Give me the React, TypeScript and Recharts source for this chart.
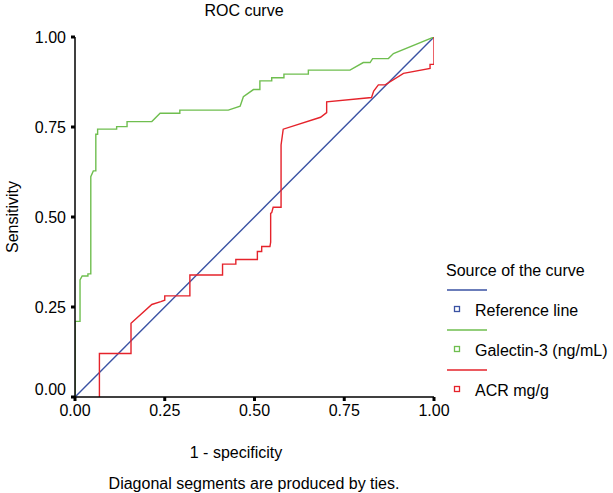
import React from "react";
import { LineChart, Line, XAxis, YAxis } from "recharts";

const FONT = "'Liberation Sans', Arial, Helvetica, sans-serif";

const xTicks = [0, 0.25, 0.5, 0.75, 1];
const yTicks = [0, 0.25, 0.5, 0.75, 1];

const seriesNames = ["Reference line", "Galectin-3 (ng/mL)", "ACR mg/g"];
const seriesColors = ["#3a52a3", "#6fbe4f", "#e5232b"];

const referenceLine = [
  { x: 0, y: 0 },
  { x: 1, y: 1 },
];

const galectin = [
  { x: 0, y: 0 }, { x: 0, y: 0.21 }, { x: 0.014, y: 0.21 }, { x: 0.014, y: 0.325 },
  { x: 0.02, y: 0.336 }, { x: 0.036, y: 0.336 }, { x: 0.036, y: 0.342 }, { x: 0.044, y: 0.342 },
  { x: 0.044, y: 0.612 }, { x: 0.051, y: 0.628 }, { x: 0.058, y: 0.628 }, { x: 0.058, y: 0.73 },
  { x: 0.063, y: 0.73 }, { x: 0.063, y: 0.744 }, { x: 0.116, y: 0.744 }, { x: 0.116, y: 0.751 },
  { x: 0.145, y: 0.751 }, { x: 0.145, y: 0.765 }, { x: 0.214, y: 0.765 }, { x: 0.237, y: 0.788 },
  { x: 0.292, y: 0.788 }, { x: 0.292, y: 0.797 }, { x: 0.427, y: 0.797 }, { x: 0.46, y: 0.808 },
  { x: 0.469, y: 0.834 }, { x: 0.497, y: 0.854 }, { x: 0.515, y: 0.854 }, { x: 0.515, y: 0.878 },
  { x: 0.548, y: 0.878 }, { x: 0.548, y: 0.887 }, { x: 0.582, y: 0.887 }, { x: 0.582, y: 0.897 },
  { x: 0.65, y: 0.897 }, { x: 0.65, y: 0.908 }, { x: 0.766, y: 0.908 }, { x: 0.803, y: 0.929 },
  { x: 0.822, y: 0.929 }, { x: 0.829, y: 0.94 }, { x: 0.873, y: 0.94 }, { x: 0.887, y: 0.954 },
  { x: 1, y: 1 },
];

const acr = [
  { x: 0.068, y: 0 }, { x: 0.068, y: 0.121 }, { x: 0.156, y: 0.121 }, { x: 0.156, y: 0.205 },
  { x: 0.214, y: 0.257 }, { x: 0.239, y: 0.265 }, { x: 0.25, y: 0.269 }, { x: 0.25, y: 0.281 },
  { x: 0.32, y: 0.281 }, { x: 0.32, y: 0.339 }, { x: 0.411, y: 0.339 }, { x: 0.411, y: 0.369 },
  { x: 0.448, y: 0.369 }, { x: 0.448, y: 0.382 }, { x: 0.508, y: 0.382 }, { x: 0.508, y: 0.404 },
  { x: 0.52, y: 0.404 }, { x: 0.52, y: 0.418 }, { x: 0.543, y: 0.418 }, { x: 0.545, y: 0.43 },
  { x: 0.545, y: 0.51 }, { x: 0.548, y: 0.512 }, { x: 0.552, y: 0.527 }, { x: 0.574, y: 0.527 },
  { x: 0.574, y: 0.7 }, { x: 0.58, y: 0.744 }, { x: 0.684, y: 0.777 }, { x: 0.701, y: 0.79 },
  { x: 0.701, y: 0.82 }, { x: 0.826, y: 0.832 }, { x: 0.832, y: 0.85 }, { x: 0.845, y: 0.867 },
  { x: 0.864, y: 0.867 }, { x: 0.915, y: 0.899 }, { x: 0.989, y: 0.913 }, { x: 0.989, y: 0.924 },
  { x: 1, y: 0.924 }, { x: 1, y: 1 },
];

const seriesData = [referenceLine, galectin, acr];

const title = "ROC curve";
const xLabel = "1 - specificity";
const yLabel = "Sensitivity";
const footnote = "Diagonal segments are produced by ties.";
const legendTitle = "Source of the curve";

const fmt = (v: number) => v.toFixed(2);

const YTick = (props: any) => {
  const { x, y, payload } = props;
  const shift = payload.value === 0 ? -8 : 0;
  return (
    <text
      x={x}
      y={y + shift}
      textAnchor="end"
      dominantBaseline="central"
      fontSize={16}
      fontFamily={FONT}
      fill="#000"
    >
      {fmt(payload.value)}
    </text>
  );
};

export default function App() {
  const tickStyle = { fontSize: 16, fill: "#000", fontFamily: FONT };
  return (
    <div style={{ position: "absolute", left: 0, top: 0, width: 613, height: 493, background: "#fff" }}>
      <LineChart
        width={613}
        height={493}
        margin={{ top: 37, right: 179, bottom: 66, left: 15 }}
      >
        <XAxis
          type="number"
          dataKey="x"
          domain={[0, 1]}
          ticks={xTicks}
          tickFormatter={fmt}
          allowDataOverflow
          height={30}
          tick={tickStyle}
          tickSize={4}
          tickMargin={4}
          axisLine={{ stroke: "#000", strokeWidth: 1.5 }}
          tickLine={{ stroke: "#000", strokeWidth: 3 }}
        />
        <XAxis
          xAxisId="top"
          orientation="top"
          type="number"
          domain={[0, 1]}
          height={0}
          tick={false}
          tickLine={false}
          axisLine={{ stroke: "#000", strokeWidth: 1.5 }}
        />
        <YAxis
          type="number"
          domain={[0, 1]}
          ticks={yTicks}
          allowDataOverflow
          width={60}
          tick={<YTick />}
          tickSize={4}
          tickMargin={5}
          axisLine={{ stroke: "#000", strokeWidth: 1.5 }}
          tickLine={{ stroke: "#000", strokeWidth: 3 }}
        />
        <YAxis
          yAxisId="right"
          orientation="right"
          type="number"
          domain={[0, 1]}
          width={0}
          tick={false}
          tickLine={false}
          axisLine={{ stroke: "#000", strokeWidth: 1.5 }}
        />
        {seriesData.map((d, i) => (
          <Line
            key={seriesNames[i]}
            data={d}
            dataKey="y"
            name={seriesNames[i]}
            type="linear"
            stroke={seriesColors[i]}
            strokeWidth={1.4}
            dot={false}
            activeDot={false}
            isAnimationActive={false}
          />
        ))}
      </LineChart>
      <svg
        width={613}
        height={493}
        style={{ position: "absolute", left: 0, top: 0, pointerEvents: "none" }}
        fontFamily={FONT}
        fontSize={16}
      >
        <text x={244} y={10} textAnchor="middle" dominantBaseline="central">{title}</text>
        <text x={236} y={452} textAnchor="middle" dominantBaseline="central">{xLabel}</text>
        <text x={254} y={483} textAnchor="middle" dominantBaseline="central">{footnote}</text>
        <text
          x={0}
          y={0}
          textAnchor="middle"
          dominantBaseline="central"
          transform="translate(12,217) rotate(-90)"
        >
          {yLabel}
        </text>
        <text x={446} y={270} dominantBaseline="central">{legendTitle}</text>
        {seriesNames.map((n, i) => (
          <g key={n}>
            <line x1={447} x2={487} y1={290 + i * 40} y2={290 + i * 40} stroke={seriesColors[i]} strokeWidth={1.4} />
            <rect x={454.5} y={306.5 + i * 40} width={5} height={5} fill="none" stroke={seriesColors[i]} strokeWidth={1.3} />
            <text x={475} y={310 + i * 40} dominantBaseline="central">{n}</text>
          </g>
        ))}
      </svg>
    </div>
  );
}
